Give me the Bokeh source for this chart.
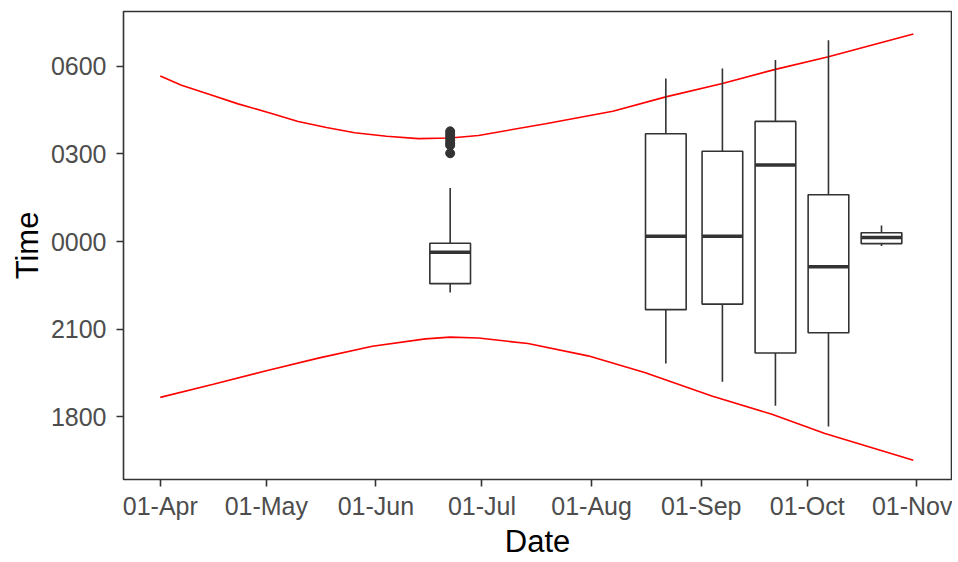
from datetime import datetime
from bokeh.plotting import figure
from bokeh.models import FixedTicker, DatetimeTickFormatter, Range1d, ColumnDataSource
from bokeh.embed import file_html
from bokeh.resources import INLINE

# ---- data (hours relative to midnight; negative = previous evening) ----
sunrise_dates = ["2021-04-01", "2021-04-07", "2021-04-15", "2021-04-23", "2021-05-02",
                 "2021-05-10", "2021-05-18", "2021-05-26", "2021-06-04", "2021-06-13",
                 "2021-06-22", "2021-06-30", "2021-07-19", "2021-08-07", "2021-08-22",
                 "2021-09-07", "2021-09-22", "2021-10-07", "2021-10-31"]
sunrise = [5.66, 5.35, 5.03, 4.71, 4.40, 4.11, 3.90, 3.72, 3.60, 3.52,
           3.54, 3.63, 4.03, 4.46, 4.95, 5.41, 5.89, 6.32, 7.10]

sunset_dates = ["2021-04-01", "2021-04-16", "2021-05-01", "2021-05-16", "2021-05-31",
                "2021-06-15", "2021-06-22", "2021-06-30", "2021-07-14", "2021-07-31",
                "2021-08-16", "2021-09-04", "2021-09-21", "2021-10-06", "2021-10-31"]
sunset = [-5.33, -4.88, -4.42, -3.98, -3.58, -3.33, -3.27, -3.30, -3.49, -3.91,
          -4.48, -5.28, -5.91, -6.57, -7.48]

box_dates = ["2021-06-22", "2021-08-22", "2021-09-07", "2021-09-22", "2021-10-07", "2021-10-22"]
whisker_hi = [1.83, 5.58, 5.92, 6.21, 6.89, 0.55]
q3 = [-0.06, 3.69, 3.09, 4.11, 1.60, 0.30]
median = [-0.37, 0.18, 0.18, 2.62, -0.86, 0.14]
q1 = [-1.44, -2.33, -2.14, -3.81, -3.12, -0.07]
whisker_lo = [-1.74, -4.17, -4.80, -5.62, -6.33, -0.15]

outlier_dates = ["2021-06-22"] * 7
outlier_vals = [3.77, 3.67, 3.57, 3.46, 3.36, 3.29, 3.02]

y_ticks = [-6, -3, 0, 3, 6]
y_tick_labels = ["1800", "2100", "0000", "0300", "0600"]
x_tick_dates = ["2021-04-01", "2021-05-01", "2021-06-01", "2021-07-01",
                "2021-08-01", "2021-09-01", "2021-10-01", "2021-11-01"]

# ---- helpers ----
def d(s):
    return datetime.strptime(s, "%Y-%m-%d")

def ms(dt):
    return (dt - datetime(1970, 1, 1)).total_seconds() * 1000.0

DAY = 86400000.0
start = d("2021-04-01")
x0, x1 = ms(start) - 10.4 * DAY, ms(start) + 223.8 * DAY
y0, y1 = -8.14, 7.87

p = figure(width=952, height=562, x_axis_type="datetime",
           output_backend="svg", toolbar_location=None,
           x_range=Range1d(x0, x1), y_range=Range1d(y0, y1),
           min_border_left=123, min_border_right=1, min_border_top=11, min_border_bottom=83)

p.xgrid.visible = False
p.ygrid.visible = False
p.background_fill_color = "white"
p.border_fill_color = "white"
p.outline_line_color = "#333333"
p.outline_line_width = 1.6

# red curves
p.line([d(s) for s in sunrise_dates], sunrise, line_color="#FF0000", line_width=1.6)
p.line([d(s) for s in sunset_dates], sunset, line_color="#FF0000", line_width=1.6)

# boxplots
bx = [d(s) for s in box_dates]
src = ColumnDataSource(dict(x=bx, hi=whisker_hi, q3=q3, med=median, q1=q1, lo=whisker_lo))
box_w = 11.5 * DAY
p.segment(x0="x", y0="q3", x1="x", y1="hi", source=src, line_color="#333333", line_width=1.6)
p.segment(x0="x", y0="q1", x1="x", y1="lo", source=src, line_color="#333333", line_width=1.6)
p.vbar(x="x", top="q3", bottom="q1", width=box_w, source=src,
       fill_color="white", line_color="#333333", line_width=1.6)
mx0 = [ms(v) - box_w / 2 for v in bx]
mx1 = [ms(v) + box_w / 2 for v in bx]
p.segment(x0=mx0, y0=median, x1=mx1, y1=median, line_color="#333333", line_width=3.5)

p.scatter([d(s) for s in outlier_dates], outlier_vals, size=9,
          fill_color="#333333", line_color="#333333")

# axes
p.xaxis.ticker = FixedTicker(ticks=[ms(d(s)) for s in x_tick_dates])
p.xaxis.formatter = DatetimeTickFormatter(days="%d-%b", months="%d-%b", years="%d-%b")
p.yaxis.ticker = FixedTicker(ticks=y_ticks)
p.yaxis.major_label_overrides = {t: l for t, l in zip(y_ticks, y_tick_labels)}

for ax in (p.xaxis[0], p.yaxis[0]):
    ax.axis_line_color = None
    ax.major_tick_line_color = "#333333"
    ax.major_tick_line_width = 1.6
    ax.major_tick_out = 7
    ax.major_tick_in = 0
    ax.minor_tick_line_color = None
    ax.major_label_text_font = "Liberation Sans"
    ax.major_label_text_font_size = "25px"
    ax.major_label_text_color = "#4D4D4D"
    ax.axis_label_text_font = "Liberation Sans"
    ax.axis_label_text_font_size = "31px"
    ax.axis_label_text_font_style = "normal"
    ax.axis_label_text_color = "black"

p.xaxis.axis_label = "Date"
p.yaxis.axis_label = "Time"
p.xaxis.major_label_standoff = 5
p.yaxis.major_label_standoff = 10
p.xaxis.axis_label_standoff = 1
p.yaxis.axis_label_standoff = 3

open("out.html", "w").write(file_html(p, INLINE))
